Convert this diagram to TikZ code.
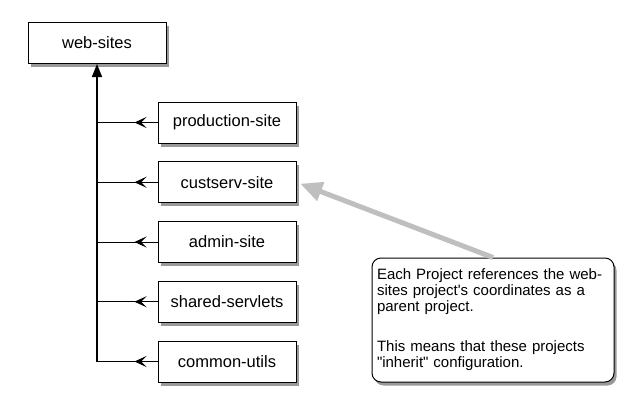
\documentclass[tikz,border=0pt]{standalone}
\usepackage{fontspec}
\setmainfont{Liberation Sans}
\usetikzlibrary{positioning, arrows.meta, shadows}

\begin{document}
\begin{tikzpicture}[
    x=1pt, y=-1pt,
    on grid,
    node distance=59.75pt,
    module/.style={draw, line width=1pt, fill=white,
        minimum width=138pt, minimum height=41pt,
        font=\fontsize{16.5}{18}\selectfont,
        drop shadow={shadow xshift=2.5pt, shadow yshift=-3.5pt, fill=black, opacity=.4}},
    note/.style={draw, line width=1pt, fill=white, rounded corners=9pt,
        text width=232pt, minimum height=124pt, inner xsep=5pt, align=left,
        font=\fontsize{15}{16}\selectfont,
        drop shadow={shadow xshift=2.5pt, shadow yshift=-3.5pt, fill=black, opacity=.4}},
    branch/.style={line width=1pt},
    barb/.style={line width=1pt, -{Stealth[length=12pt, width=11pt, inset=5.5pt]}},
    trunk/.style={line width=1.5pt},
    pointer/.style={line width=5pt, color=black!25, shorten >=4pt,
        -{Triangle[length=22pt, width=19pt]}}
]
    \useasboundingbox (0,0) rectangle (641,415);

    % Parent project
    \node[module] (sites) at (97,43) {web-sites};

    % Child projects
    \node[module] (prod) at (227,122.5) {production-site};
    \node[module, below=of prod] (cust) {custserv-site};
    \node[module, below=of cust] (admin) {admin-site};
    \node[module, below=of admin] (shared) {shared-servlets};
    \node[module, below=of shared] (utils) {common-utils};

    % Inheritance lines
    \coordinate (bottom) at (sites.south |- utils.west);
    \draw[trunk, -{Triangle[length=13pt, width=10pt]}] (bottom) -- (sites.south);
    \foreach \child in {prod, cust, admin, shared, utils} {
        \draw[branch] (\child.west) -- (sites.south |- \child.west);
        \draw[barb] (\child.west) -- ++(-23,0);
    }

    % Callout
    \node[note] (note) at (493,320) {Each Project references the web-\\
        sites project\textquotesingle s coordinates as a\\
        parent project.\\[24pt]
        This means that these projects\\
        \textquotedbl inherit\textquotedbl\ configuration.};
    \draw[pointer] (note.north) -- (cust.east);
\end{tikzpicture}
\end{document}
